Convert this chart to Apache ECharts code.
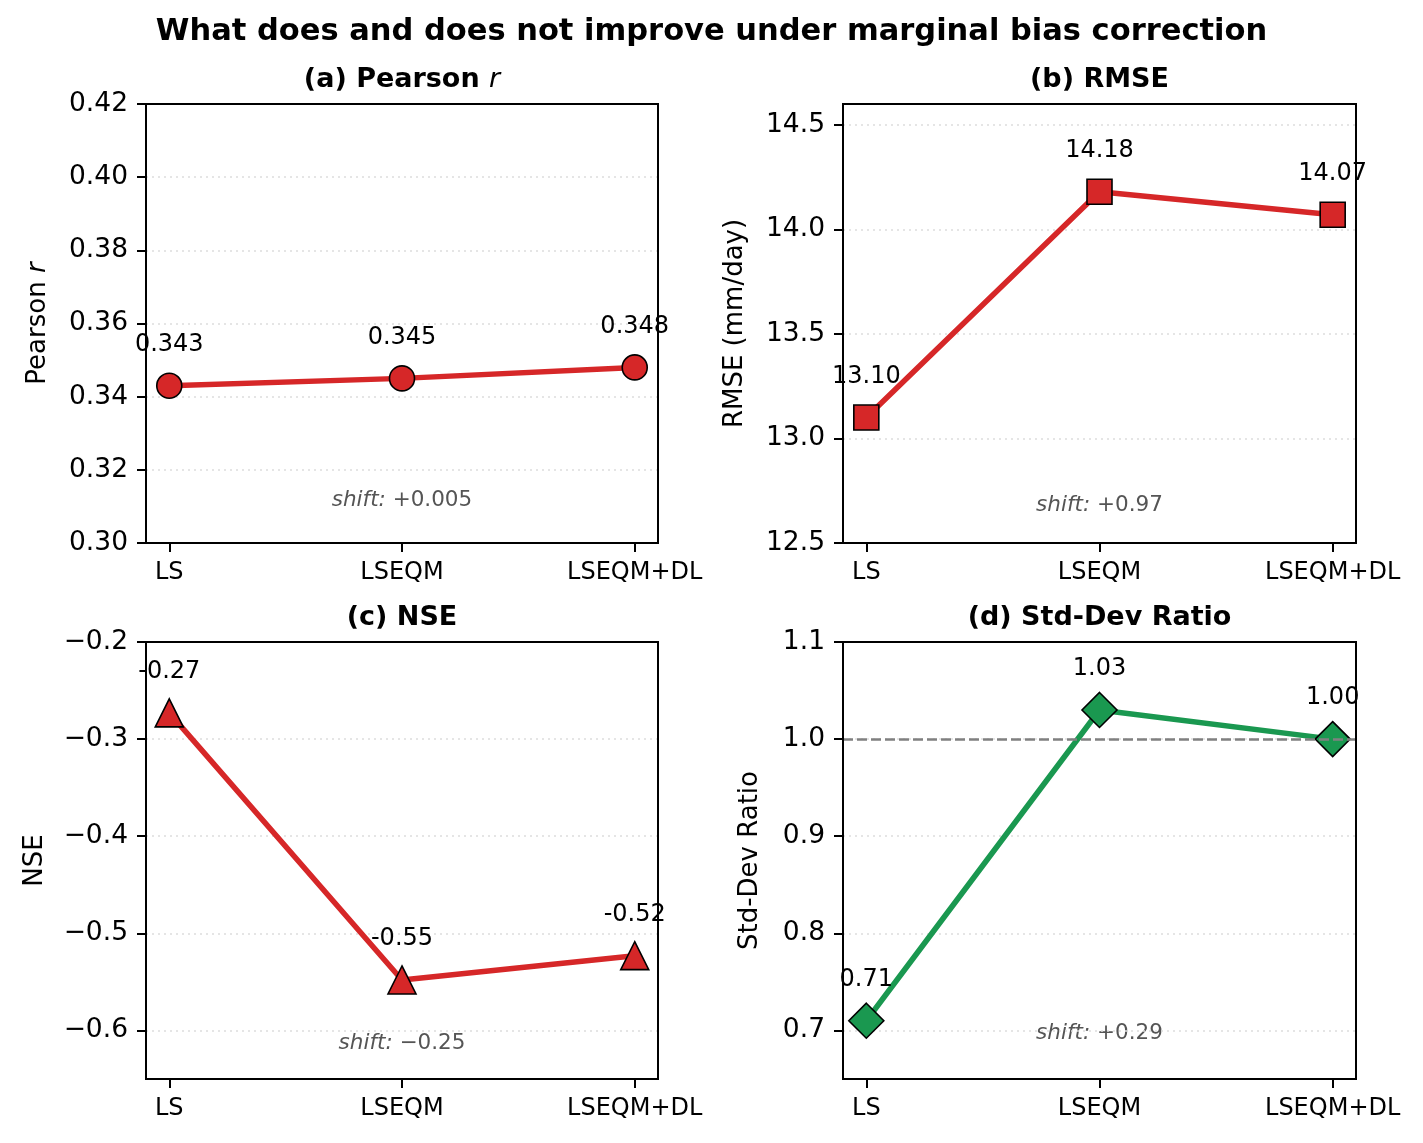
<!DOCTYPE html>
<html>
<head>
<meta charset="utf-8">
<script src="https://cdn.jsdelivr.net/npm/echarts@6/dist/echarts.min.js"></script>
<style>
  html, body { margin: 0; padding: 0; background: #fff; }
  #chart { width: 1423px; height: 1143px; }
</style>
</head>
<body>
<div id="chart"></div>
<script>
// values
const categories = ['LS', 'LSEQM', 'LSEQM+DL'];
const pearsonR = [0.343, 0.345, 0.348];
const rmse = [13.10, 14.18, 14.07];
const nse = [-0.273, -0.548, -0.523];
const sdRatio = [0.71, 1.03, 1.00];

const pearsonTicks = [0.30, 0.32, 0.34, 0.36, 0.38, 0.40, 0.42];
const rmseTicks = [12.5, 13.0, 13.5, 14.0, 14.5];
const nseTicks = [-0.6, -0.5, -0.4, -0.3, -0.2];
const ratioTicks = [0.7, 0.8, 0.9, 1.0, 1.1];

const RED = '#d62728';
const GREEN = '#1a9850';
const FONT = '"DejaVu Sans", "Liberation Sans", sans-serif';

const panels = [
    {
        title: '{b|(a) Pearson }{bi|r}', yName: '{n|Pearson }{ni|r}',
        data: pearsonR, ticks: pearsonTicks, min: 0.30, max: 0.42,
        tickDec: 2, labelDec: 3, color: RED, symbol: 'circle', size: 25,
        grid: {left: 146, top: 104, width: 512, height: 439}, nameGap: 95, shiftY: 500
    },
    {
        title: '{b|(b) RMSE}', yName: '{n|RMSE (mm/day)}',
        data: rmse, ticks: rmseTicks, min: 12.5, max: 14.6,
        tickDec: 1, labelDec: 2, color: RED, symbol: 'rect', size: 25,
        grid: {left: 843, top: 104, width: 513, height: 439}, nameGap: 95, shiftY: 505
    },
    {
        title: '{b|(c) NSE}', yName: '{n|NSE}',
        data: nse, ticks: nseTicks, min: -0.65, max: -0.2,
        tickDec: 1, labelDec: 2, color: RED, symbol: 'triangle', size: 28,
        grid: {left: 146, top: 642, width: 512, height: 437}, nameGap: 98, shiftY: 1043
    },
    {
        title: '{b|(d) Std-Dev Ratio}', yName: '{n|Std-Dev Ratio}',
        data: sdRatio, ticks: ratioTicks, min: 0.65, max: 1.1,
        tickDec: 1, labelDec: 2, color: GREEN, symbol: 'diamond', size: 35,
        grid: {left: 843, top: 642, width: 513, height: 437}, nameGap: 80, shiftY: 1033,
        refLine: 1.0
    }
];

function shiftText(values, dec) {
    let d = values[values.length - 1] - values[0];
    let s = Math.abs(d).toFixed(dec);
    return (d < 0 ? '\u2212' : '+') + s;
}

const chart = echarts.init(document.getElementById('chart'));

let grids = [], xAxes = [], yAxes = [], series = [];
let graphics = [{
    type: 'text', x: 711.5, y: 32,
    style: {text: 'What does and does not improve under marginal bias correction',
        align: 'center', verticalAlign: 'middle',
        font: 'bold 30.5px ' + FONT, fill: '#000'}
}];

panels.forEach((p, i) => {
    grids.push(Object.assign({show: true, borderWidth: 0, backgroundColor: '#fff'}, p.grid));
    xAxes.push({
        type: 'value', gridIndex: i, min: -0.1, max: 2.1,
        axisLine: {onZero: false, lineStyle: {color: '#000', width: 2}},
        axisTick: {show: true, length: 9, lineStyle: {color: '#000', width: 2}, customValues: [0, 1, 2]},
        axisLabel: {color: '#000', fontFamily: FONT, fontSize: 24, margin: 18, customValues: [0, 1, 2],
            formatter: v => categories[Math.round(v)]},
        splitLine: {show: false}
    });
    yAxes.push({
        type: 'value', gridIndex: i, min: p.min, max: p.max,
        name: p.yName, nameLocation: 'middle', nameGap: p.nameGap,
        nameTextStyle: {rich: {
            n: {fontFamily: FONT, fontSize: 26, color: '#000'},
            ni: {fontFamily: FONT, fontSize: 26, color: '#000', fontStyle: 'italic'}
        }},
        axisLine: {onZero: false, lineStyle: {color: '#000', width: 2}},
        axisTick: {show: true, length: 9, lineStyle: {color: '#000', width: 2}, customValues: p.ticks},
        axisLabel: {color: '#000', fontFamily: FONT, fontSize: 26.5, margin: 18, customValues: p.ticks,
            formatter: v => v.toFixed(p.tickDec).replace('-', '\u2212')},
        splitLine: {show: true, lineStyle: {color: '#dddddd', width: 1.6, type: [2, 4]}}
    });
    let s = {
        type: 'line', xAxisIndex: i, yAxisIndex: i,
        data: p.data.map((v, k) => [k, v]),
        symbol: p.symbol, symbolSize: p.size,
        lineStyle: {color: p.color, width: 5.5},
        itemStyle: {color: p.color, borderColor: '#000', borderWidth: 1.6},
        label: {
            show: true, position: 'inside', offset: [0, -41],
            fontFamily: FONT, fontSize: 24, color: '#000',
            formatter: d => d.value[1].toFixed(p.labelDec)
        },
        emphasis: {disabled: true},
        animation: false
    };
    if (p.refLine != null) {
        s.markLine = {
            silent: true, symbol: ['none', 'none'],
            lineStyle: {color: '#808080', type: [10, 4], width: 2.5},
            label: {show: false},
            data: [{yAxis: p.refLine}]
        };
    }
    series.push(s);

    // axes frame (all four spines), drawn over the dotted grid lines
    graphics.push({
        type: 'rect', z: 100, silent: true,
        shape: {x: p.grid.left, y: p.grid.top, width: p.grid.width, height: p.grid.height},
        style: {fill: 'none', stroke: '#000', lineWidth: 2}
    });

    let cx = p.grid.left + p.grid.width / 2;
    graphics.push({
        type: 'text', x: cx, y: p.grid.top - 24,
        style: {
            text: p.title, align: 'center', verticalAlign: 'middle',
            font: 'bold 27px ' + FONT,
            rich: {
                b: {fontFamily: FONT, fontSize: 27, fontWeight: 'bold', fill: '#000'},
                bi: {fontFamily: FONT, fontSize: 27, fontStyle: 'italic', fill: '#000'}
            }
        }
    });
    let x1 = p.grid.left + (1.1 / 2.2) * p.grid.width;
    graphics.push({
        type: 'text', x: x1, y: p.shiftY,
        style: {
            text: '{i|shift:} {n|' + shiftText(p.data, p.labelDec === 3 ? 3 : 2) + '}',
            align: 'center', verticalAlign: 'middle',
            font: '21.5px ' + FONT, fill: '#555',
            rich: {
                i: {fontFamily: FONT, fontSize: 21.5, fontStyle: 'italic', fill: '#555'},
                n: {fontFamily: FONT, fontSize: 21.5, fill: '#555'}
            }
        }
    });
});

chart.setOption({
    backgroundColor: '#fff',
    animation: false,
    grid: grids,
    xAxis: xAxes,
    yAxis: yAxes,
    series: series,
    graphic: graphics
});
</script>
</body>
</html>
